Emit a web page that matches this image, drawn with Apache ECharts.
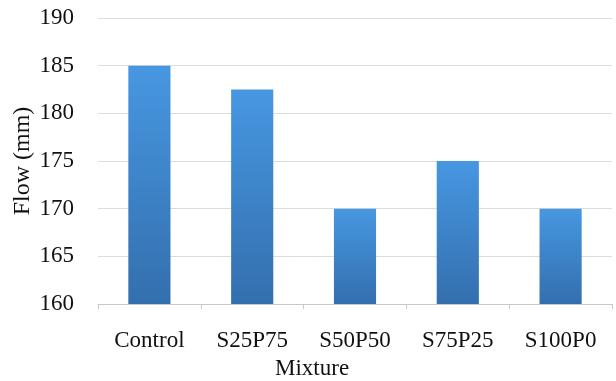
<!DOCTYPE html>
<html>
<head>
<meta charset="utf-8">
<script src="https://cdn.jsdelivr.net/npm/echarts@6/dist/echarts.min.js"></script>
<style>
  html, body { margin: 0; padding: 0; background: #fff; }
  #chart { width: 616px; height: 381px; }
</style>
</head>
<body>
<div id="chart"></div>
<script>
// Flow of each mixture (mm)
const mixtures = ['Control', 'S25P75', 'S50P50', 'S75P25', 'S100P0'];
const flowValues = [185, 182.5, 170, 175, 170];

const chart = echarts.init(document.getElementById('chart'));
const font = 'Liberation Serif, Times New Roman, serif';

chart.setOption({
  animation: false,
  backgroundColor: '#ffffff',
  grid: { left: 98, right: 4, top: 18, bottom: 77, containLabel: false, outerBoundsMode: 'none' },
  xAxis: {
    type: 'category',
    data: mixtures,
    axisLine: { lineStyle: { color: '#c8c8c8', width: 1 } },
    axisTick: { show: true, length: 5, lineStyle: { color: '#c8c8c8' } },
    axisLabel: { color: '#111', fontFamily: font, fontSize: 23, margin: 25 }
  },
  yAxis: {
    type: 'value',
    min: 160,
    max: 190,
    interval: 5,
    name: 'Flow (mm)',
    nameLocation: 'middle',
    nameMoveOverlap: false,
    nameGap: 63,
    nameTextStyle: { color: '#111', fontFamily: font, fontSize: 24 },
    axisLine: { show: false },
    axisTick: { show: false },
    axisLabel: { color: '#111', fontFamily: font, fontSize: 23, margin: 24 },
    splitLine: { lineStyle: { color: '#dcdcdc', width: 1 } }
  },
  graphic: [{
    type: 'text',
    left: 275,
    top: 357,
    style: { text: 'Mixture', fill: '#111', font: '23px ' + font }
  }],
  series: [{
    type: 'bar',
    data: flowValues,
    barWidth: '41%',
    itemStyle: {
      color: new echarts.graphic.LinearGradient(0, 0, 0, 1, [
        { offset: 0, color: '#4797e1' },
        { offset: 1, color: '#336fae' }
      ])
    }
  }]
});
</script>
</body>
</html>
